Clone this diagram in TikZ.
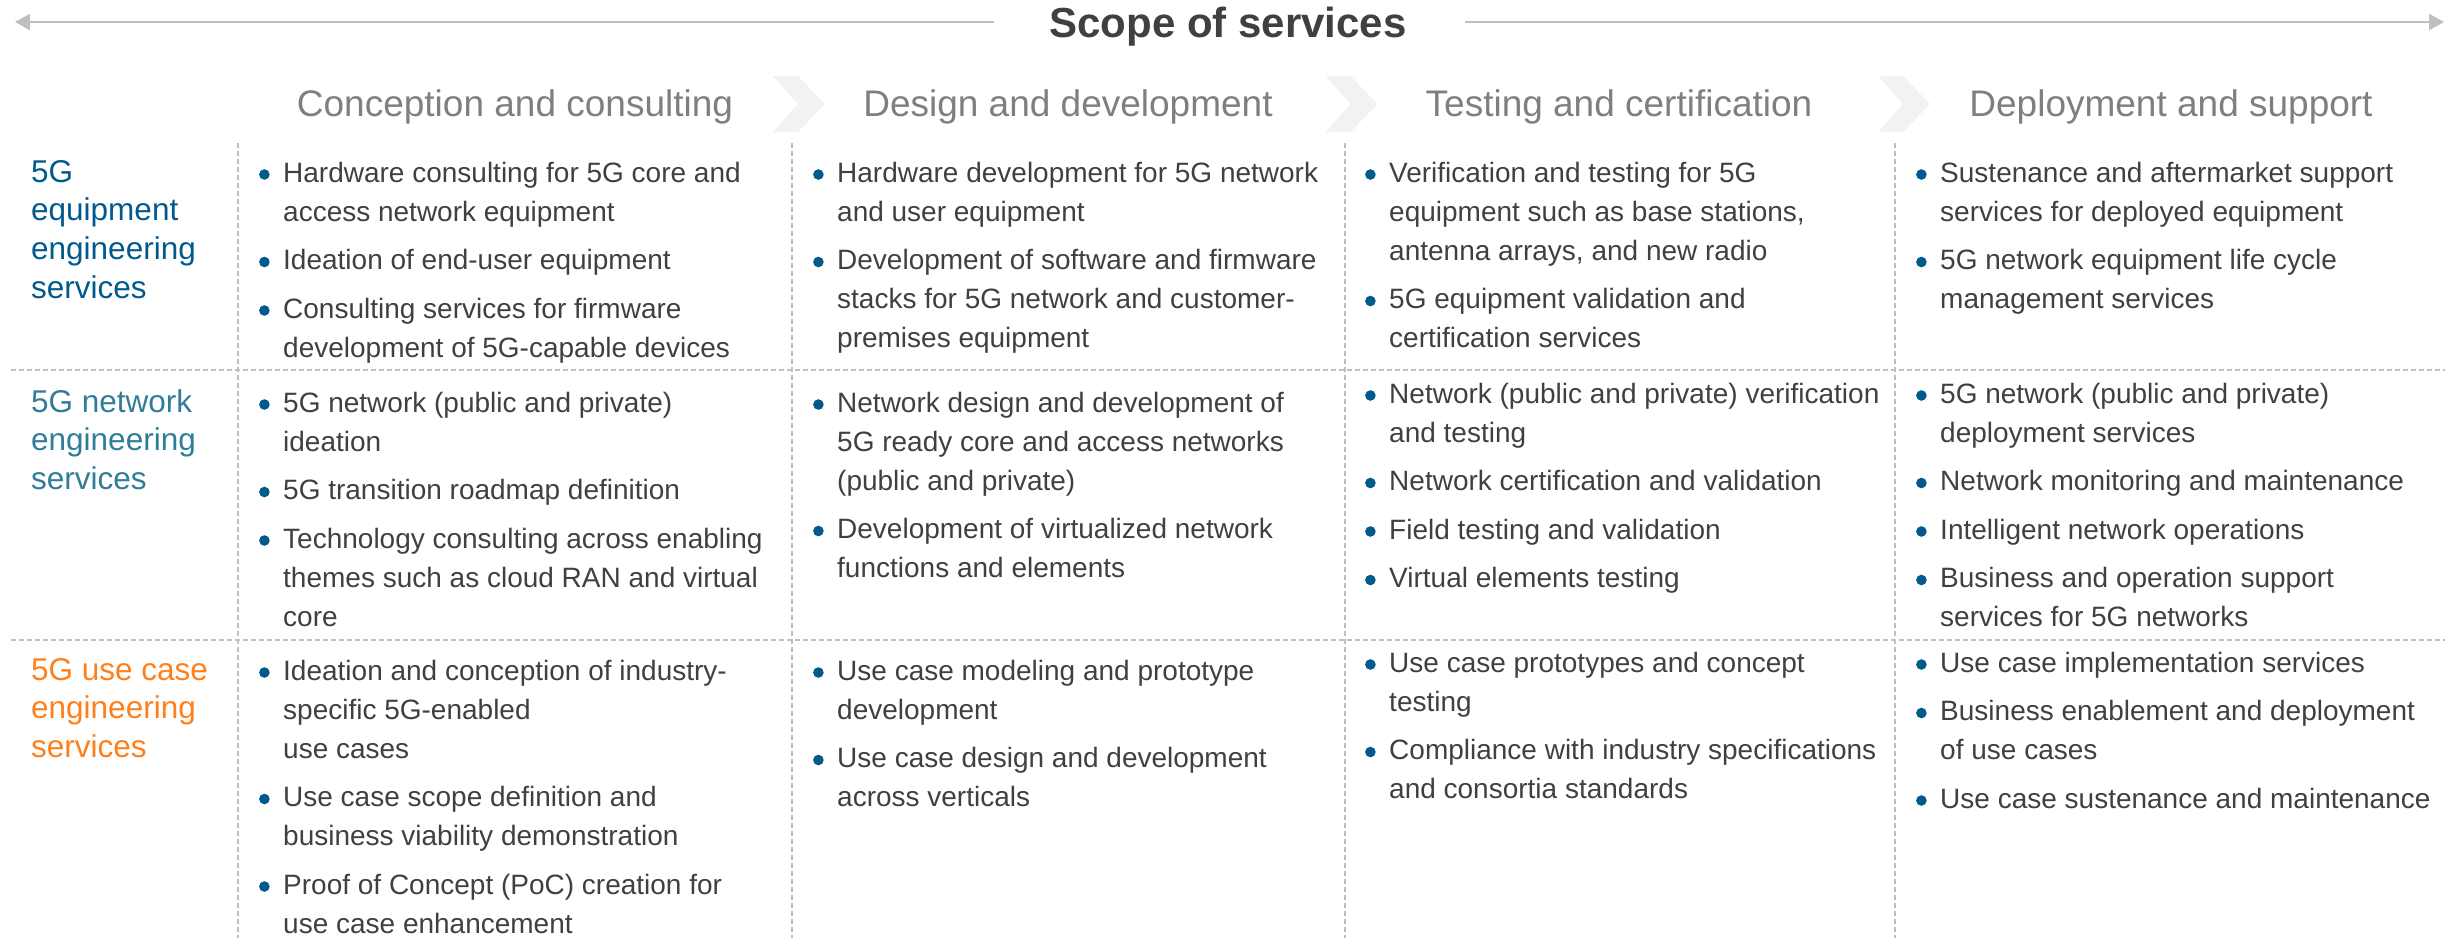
\documentclass[tikz,border=0pt]{standalone}
\usepackage{fontspec}
\setmainfont{Liberation Sans}
\usetikzlibrary{arrows.meta}
\definecolor{txt}{HTML}{404040}
\definecolor{hdrgray}{HTML}{7F7F7F}
\definecolor{linegray}{HTML}{BFBFBF}
\definecolor{chevgray}{HTML}{F2F2F2}
\definecolor{bblue}{HTML}{005A8C}
\definecolor{labA}{HTML}{005A8C}
\definecolor{labB}{HTML}{2F7D99}
\definecolor{labC}{HTML}{FF7F1A}
\newcommand\itm{\leavevmode\llap{\tikz[baseline=-7.5pt]\fill[bblue] (0,0) circle[radius=5.3pt];\hspace{13.5pt}}}
\newcommand\gap{\\[9.5pt]}
\newcommand\cellbox[1]{\parbox[t]{600pt}{\raggedright\fontsize{28}{39}\selectfont#1}}
\newcommand\lblbox[1]{\parbox[t]{200pt}{\raggedright\fontsize{31.5}{38.8}\selectfont#1}}
\begin{document}
\begin{tikzpicture}[x=1pt,y=-1pt,
  dline/.style={draw=linegray,line width=1.1pt,dash pattern=on 5pt off 3pt},
  arr/.style={draw=linegray,line width=2.5pt,-{Triangle[length=15pt,width=16pt]}},
  chev/.style={fill=chevgray,draw=none},
  cell/.style={inner sep=0pt,anchor=base west,text=txt},
  lbl/.style={inner sep=0pt,anchor=base west},
  hdr/.style={inner sep=0pt,anchor=base,text=hdrgray,font=\fontsize{37}{44}\selectfont},
  ttl/.style={inner sep=0pt,anchor=base,text=txt,font=\fontsize{42}{50}\selectfont\bfseries}]
\useasboundingbox (0,0) rectangle (2456,938);
% title and arrows
\node[ttl] (title) at (1228,37) {Scope of services};
\coordinate (lstart) at (994,22);
\coordinate (lend) at (15,22);
\coordinate (rstart) at (1465,22);
\coordinate (rend) at (2444,22);
\draw[arr] (lstart) -- (lend);
\draw[arr] (rstart) -- (rend);
% headers
\node[hdr] (h1) at (515,116) {Conception and consulting};
\node[hdr] (h2) at (1068,116) {Design and development};
\node[hdr] (h3) at (1619,116) {Testing and certification};
\node[hdr] (h4) at (2171,116) {Deployment and support};
% chevrons
\foreach \dx in {0,552.5,1105}{
  \fill[chev] (773+\dx,76) -- (798+\dx,76) -- (825+\dx,104) -- (798+\dx,132) -- (773+\dx,132) -- (798+\dx,104) -- cycle;
}
% grid lines
\foreach \xx in {238,792,1345,1895}{\draw[dline] (\xx,143) -- (\xx,938);}
\foreach \yy in {370,640}{\draw[dline] (11,\yy) -- (2445,\yy);}
% row labels
\node[lbl,text=labA] (l1) at (31,182) {\lblbox{5G\\ equipment\\ engineering\\ services}};
\node[lbl,text=labB] (l2) at (31,412) {\lblbox{5G network\\ engineering\\ services}};
\node[lbl,text=labC] (l3) at (31,680) {\lblbox{5G use case\\ engineering\\ services}};
% row 1
\node[cell] (r1c1) at (283,182) {\cellbox{\itm Hardware consulting for 5G core and\\ access network equipment\gap\itm Ideation of end-user equipment\gap\itm Consulting services for firmware\\ development of 5G-capable devices}};
\node[cell] (r1c2) at (837,182) {\cellbox{\itm Hardware development for 5G network\\ and user equipment\gap\itm Development of software and firmware\\ stacks for 5G network and customer-\\ premises equipment}};
\node[cell] (r1c3) at (1389,182) {\cellbox{\itm Verification and testing for 5G\\ equipment such as base stations,\\ antenna arrays, and new radio\gap\itm 5G equipment validation and\\ certification services}};
\node[cell] (r1c4) at (1940,182) {\cellbox{\itm Sustenance and aftermarket support\\ services for deployed equipment\gap\itm 5G network equipment life cycle\\ management services}};
% row 2
\node[cell] (r2c1) at (283,412) {\cellbox{\itm 5G network (public and private)\\ ideation\gap\itm 5G transition roadmap definition\gap\itm Technology consulting across enabling\\ themes such as cloud RAN and virtual\\ core}};
\node[cell] (r2c2) at (837,412) {\cellbox{\itm Network design and development of\\ 5G ready core and access networks\\ (public and private)\gap\itm Development of virtualized network\\ functions and elements}};
\node[cell] (r2c3) at (1389,403) {\cellbox{\itm Network (public and private) verification\\ and testing\gap\itm Network certification and validation\gap\itm Field testing and validation\gap\itm Virtual elements testing}};
\node[cell] (r2c4) at (1940,403) {\cellbox{\itm 5G network (public and private)\\ deployment services\gap\itm Network monitoring and maintenance\gap\itm Intelligent network operations\gap\itm Business and operation support\\ services for 5G networks}};
% row 3
\node[cell] (r3c1) at (283,680) {\cellbox{\itm Ideation and conception of industry-\\ specific 5G-enabled\\ use cases\gap\itm Use case scope definition and\\ business viability demonstration\gap\itm Proof of Concept (PoC) creation for\\ use case enhancement}};
\node[cell] (r3c2) at (837,680) {\cellbox{\itm Use case modeling and prototype\\ development\gap\itm Use case design and development\\ across verticals}};
\node[cell] (r3c3) at (1389,672) {\cellbox{\itm Use case prototypes and concept\\ testing\gap\itm Compliance with industry specifications\\ and consortia standards}};
\node[cell] (r3c4) at (1940,672) {\cellbox{\itm Use case implementation services\gap\itm Business enablement and deployment\\ of use cases\gap\itm Use case sustenance and maintenance}};
\end{tikzpicture}
\end{document}
